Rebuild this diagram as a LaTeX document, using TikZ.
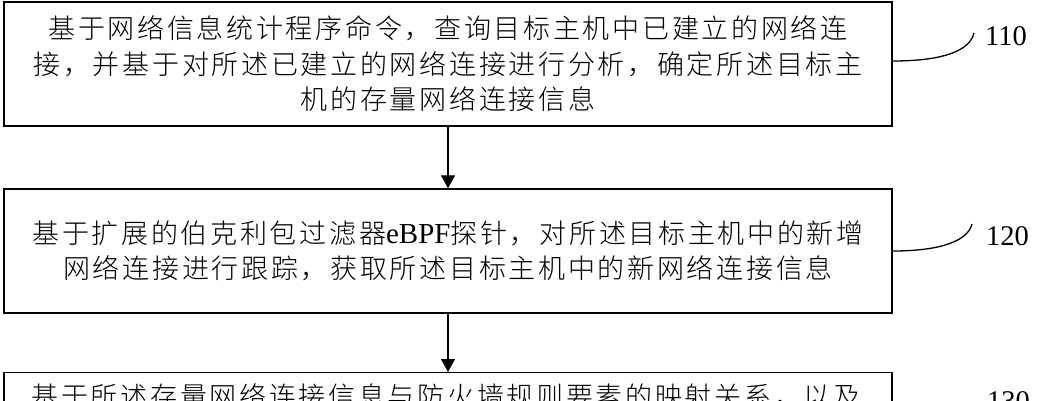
\documentclass[tikz,border=0pt]{standalone}
\usepackage{fontspec}
\setmainfont{Liberation Serif}
\newfontfamily\cjk[LetterSpace=10,UprightFont=* Light]{Noto Sans CJK SC}
\usetikzlibrary{arrows.meta}
\newcommand{\lat}[1]{{\rmfamily\fontsize{29}{35.5}\selectfont #1}}
\begin{document}
\begin{tikzpicture}[x=1pt,y=-1pt,
  stepbox/.style={draw,line width=1.4pt,minimum width=888pt,minimum height=124pt,inner sep=0pt,
    align=center,font=\cjk\fontsize{27}{35.5}\selectfont},
  txt/.style={inner sep=0pt,align=center,font=\cjk\fontsize{27}{35.5}\selectfont},
  flow/.style={line width=1.3pt,-{Triangle[length=13pt,width=14pt]}},
  lead/.style={line width=1.3pt},
  num/.style={inner sep=0pt,anchor=base west,font=\fontsize{28.5}{30}\selectfont}]
\useasboundingbox (0,0) rectangle (1039,400);
\clip (0,0) rectangle (1039,400);
\fill[white] (0,0) rectangle (1039,400);

\node[stepbox] (b1) at (448,64) {基于网络信息统计程序命令，查询目标主机中已建立的网络连\\接，并基于对所述已建立的网络连接进行分析，确定所述目标主\\机的存量网络连接信息};
\node[stepbox] (b2) at (448,251) {基于扩展的伯克利包过滤器\lat{eBPF}探针，对所述目标主机中的新增\\网络连接进行跟踪，获取所述目标主机中的新网络连接信息};
\node[stepbox,anchor=north] (b3) at (448,372) {};
\node[txt] (t3) at (446,396) {基于所述存量网络连接信息与防火墙规则要素的映射关系，以及};

\draw[flow] (b1.south) -- (b2.north);
\draw[flow] (b2.south) -- (b3.north);

\node[num] (n1) at (985,45) {110};
\node[num] (n2) at (986,245) {120};
\node[num] (n3) at (987,410) {130};

\coordinate (s1) at (b1.east |- 0,61);
\coordinate (e1) at (974,33);
\draw[lead] (s1) .. controls (945,61) and (970,50) .. (e1);
\coordinate (s2) at (b2.east |- 0,251);
\coordinate (e2) at (972,224);
\draw[lead] (s2) .. controls (943,251) and (968,240) .. (e2);
\end{tikzpicture}
\end{document}
